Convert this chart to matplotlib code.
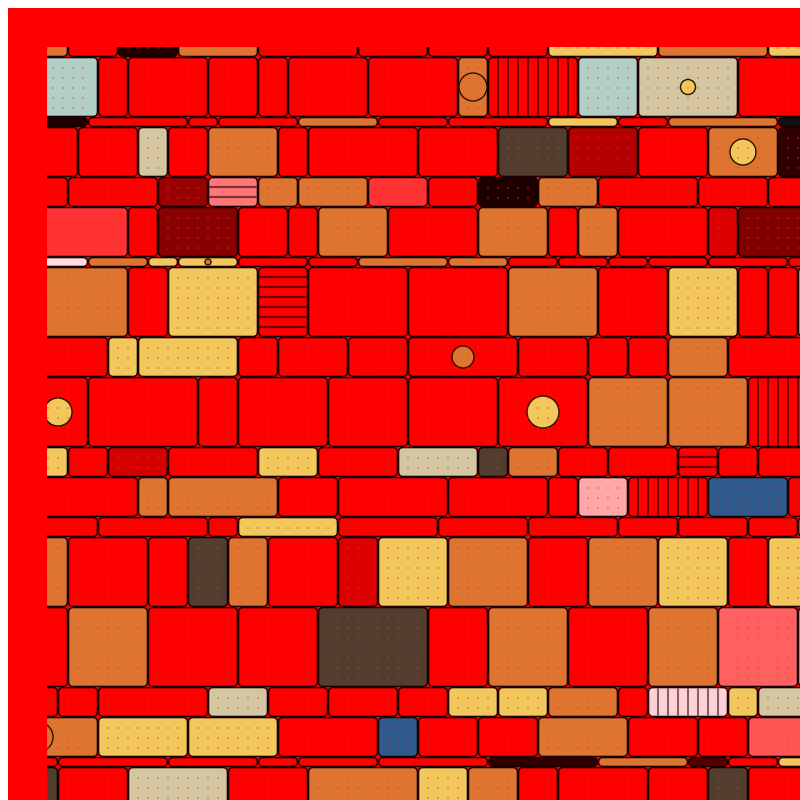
import matplotlib
matplotlib.use('Agg')
import matplotlib.pyplot as plt
from matplotlib.patches import FancyBboxPatch, Circle, Rectangle
import numpy as np

# ---------------- data ----------------
COLORS = {
    'R': '#FF0000', 'O': '#DD7531', 'Y': '#F2C75C', 'B': '#D3C6A1', 'T': '#B1CFC6',
    'K': '#523E2E', 'U': '#2E5B8C', 'L': '#FF3333', 'S': '#FF6161', 's': '#FF5555',
    'P': '#FF7777', 'p': '#FFA8A8', 'w': '#FFD0D4', 'W': '#FFDDE2',
    'd1': '#1F0000', 'd2': '#111111', 'd3': '#300000', 'd4': '#880000',
    'd5': '#DD0000', 'd6': '#800000', 'd7': '#B40000', 'd8': '#990000',
    'd9': '#D50000', 'd10': '#550000',
}

row_names = list('ABCDEFGHIJKLMNOPQRS')
row_heights = [5, 6, 1, 5, 3, 5, 1, 7, 4, 7, 3, 4, 2, 7, 8, 3, 4, 1, 5]
row_starts = [2, 3.5, 2, 2, 2, 2, 2, 2, 2, 2, 2, 2, 2, 2, 2, 2, -3, 2, 2]

widths_A = [4, 5, 6, 8, 10, 7, 6, 6, 11, 11, 10]
codes_A = ['O', 'R', 'd1', 'O', 'R', 'R', 'R', 'R', 'Y', 'O', 'Y']
widths_B = [5.5, 3, 8, 5, 3, 8, 9, 3, 9, 6, 10, 12]
codes_B = ['T', 'R', 'R', 'R', 'R', 'R', 'R', 'O', 'R|', 'T', 'B', 'R']
widths_C = [6, 10, 3, 8, 8, 7, 10, 7, 5, 11, 8]
codes_C = ['d1', 'R', 'R', 'R', 'O', 'R', 'R', 'Y', 'R', 'O', 'd2']
widths_D = [5, 6, 3, 4, 7, 3, 11, 8, 7, 7, 7, 7, 8]
codes_D = ['R', 'R', 'B', 'R', 'O', 'R', 'R', 'R', 'K', 'd7', 'R', 'O', 'd3']
widths_E = [4, 9, 5, 5, 4, 7, 6, 5, 6, 6, 10, 7, 9]
codes_E = ['R', 'R', 'd8', 'P-', 'O', 'O', 'L', 'R', 'd1', 'O', 'R', 'R', 'R']
widths_F = [10, 3, 8, 5, 3, 7, 9, 7, 3, 4, 9, 3, 12]
codes_F = ['L', 'R', 'd4', 'R', 'R', 'O', 'R', 'O', 'R', 'O', 'R', 'd5', 'd6']
widths_G = [6, 6, 3, 6, 7, 5, 9, 6, 5, 5, 4, 6, 8, 7]
codes_G = ['W', 'O', 'Y', 'Y', 'R', 'R', 'O', 'O', 'R', 'R', 'R', 'R', 'R', 'R']
widths_H = [10, 4, 9, 5, 10, 10, 9, 7, 7, 3, 3, 8]
codes_H = ['O', 'R', 'Y', 'R-', 'R', 'R', 'O', 'R', 'Y', 'R', 'R', 'B']
widths_I = [8, 3, 10, 4, 7, 6, 11, 7, 4, 4, 6, 13]
codes_I = ['R', 'Y', 'Y', 'R', 'R', 'R', 'R', 'R', 'R', 'R', 'O', 'R']
widths_J = [6, 11, 4, 9, 8, 9, 9, 8, 8, 11]
codes_J = ['R', 'R', 'R', 'R', 'R', 'R', 'R', 'O', 'O', 'R|']
widths_K = [4, 4, 6, 9, 6, 8, 8, 3, 5, 5, 7, 4, 4, 10]
codes_K = ['Y', 'R', 'd9', 'R', 'Y', 'R', 'B', 'K', 'O', 'R', 'R', 'R-', 'R', 'R']
widths_L = [11, 3, 11, 6, 11, 10, 3, 5, 8, 8, 8]
codes_L = ['R', 'O', 'O', 'R', 'R', 'R', 'R', 'p', 'R|', 'U', 'R']
widths_M = [7, 11, 3, 10, 10, 9, 9, 6, 7, 5, 7]
codes_M = ['R', 'R', 'R', 'Y', 'R', 'R', 'R', 'R', 'R', 'R', 'O']
widths_N = [4, 8, 4, 4, 4, 7, 4, 7, 8, 6, 7, 7, 4, 10]
codes_N = ['O', 'R', 'R', 'K', 'O', 'R', 'd5', 'Y', 'O', 'R', 'O', 'Y', 'R', 'Y']
widths_O = [4, 8, 9, 8, 11, 6, 8, 8, 7, 8, 8]
codes_O = ['R', 'O', 'R', 'R', 'K', 'R', 'O', 'R', 'O', 'S', 'Y']
widths_P = [3, 4, 11, 6, 6, 7, 5, 5, 5, 7, 3, 8, 3, 11]
codes_P = ['R', 'R', 'R', 'B', 'R', 'R', 'R', 'Y', 'Y', 'O', 'R', 'w|', 'Y', 'B']
widths_Q = [12, 9, 9, 10, 4, 6, 6, 9, 7, 5, 12]
codes_Q = ['O', 'Y', 'Y', 'R', 'U', 'R', 'R', 'O', 'R', 'R', 's']
widths_R = [3, 11, 9, 4, 8, 11, 11, 9, 4, 5, 9]
codes_R = ['R', 'R', 'R', 'R', 'R', 'R', 'd3', 'O', 'd10', 'R', 'Y']
widths_S = [3, 7, 10, 8, 11, 5, 5, 4, 9, 6, 4, 12]
codes_S = ['K', 'R', 'B', 'R', 'O', 'Y', 'O', 'R', 'R', 'R', 'K', 'R']

row_widths = [widths_A, widths_B, widths_C, widths_D, widths_E, widths_F, widths_G,
              widths_H, widths_I, widths_J, widths_K, widths_L, widths_M, widths_N,
              widths_O, widths_P, widths_Q, widths_R, widths_S]
row_codes = [codes_A, codes_B, codes_C, codes_D, codes_E, codes_F, codes_G,
             codes_H, codes_I, codes_J, codes_K, codes_L, codes_M, codes_N,
             codes_O, codes_P, codes_Q, codes_R, codes_S]

# circles: (row, cell index, colour code, radius)
circles = [('B', 7, 'O', 1.4), ('B', 10, 'Y', 0.75), ('D', 11, 'Y', 1.3),
           ('G', 3, 'O', 0.3), ('I', 6, 'O', 1.1), ('J', 0, 'Y', 1.4),
           ('J', 6, 'Y', 1.6), ('Q', 0, 'O', 1.5)]

# ---------------- drawing ----------------
fig = plt.figure(figsize=(8, 8), dpi=100)
fig.patch.set_facecolor('white')
fig.add_artist(Rectangle((8 / 800, 0), 792 / 800, 792 / 800, transform=fig.transFigure,
                         facecolor='#FF0000', edgecolor='none', zorder=-10))
ax = fig.add_axes([47 / 800, 0, 753 / 800, 753 / 800])
ax.set_xlim(3.9, 79.2)
ax.set_ylim(79.3, 4.0)
ax.set_axis_off()

gap = 0.06
edge = '#1a0000'
dot_x, dot_y = [], []
cell_geom = {}

top = 0.0
for name, h, start, widths, codes in zip(row_names, row_heights, row_starts, row_widths, row_codes):
    x = start
    for i, (w, code) in enumerate(zip(widths, codes)):
        stripe = None
        base = code
        if code.endswith('|') or code.endswith('-'):
            stripe = code[-1]
            base = code[:-1]
        col = COLORS[base]
        hh = h - 2 * gap
        rs = min(0.45, hh / 2)
        p = FancyBboxPatch((x + gap, top + gap), w - 2 * gap, hh,
                           boxstyle=f"round,pad=0,rounding_size={rs}",
                           facecolor=col, edgecolor=edge, linewidth=1.0, zorder=2)
        ax.add_patch(p)
        cell_geom[(name, i)] = (x, top, w, h)
        if stripe == '|':
            lc = '#7a6060' if base == 'w' else '#700000'
            for k in range(1, int(round(w))):
                ax.plot([x + k - 0.03, x + k - 0.03], [top + gap, top + h - gap],
                        color=lc, lw=1.4, zorder=3, solid_capstyle='butt')
        elif stripe == '-':
            lc = '#8a3030' if base == 'P' else '#700000'
            for k in range(1, int(round(h))):
                ax.plot([x + gap, x + w - gap], [top + k - 0.03, top + k - 0.03],
                        color=lc, lw=1.6, zorder=3, solid_capstyle='butt')
        else:
            xs = np.arange(x + 1.03, x + w - 0.85, 1.0)
            ys = np.arange(top + 1.13, top + h - 0.75, 1.0)
            for yy in ys:
                for xx in xs:
                    dot_x.append(xx)
                    dot_y.append(yy)
        x += w
    top += h

for name, idx, code, r in circles:
    cx, cy, cw, ch = cell_geom[(name, idx)]
    ax.add_patch(Circle((cx + cw / 2, cy + ch / 2), r, facecolor=COLORS[code],
                        edgecolor='#2a1000', linewidth=1.0, zorder=4))

ax.scatter(dot_x, dot_y, s=2.6, marker='s', color='#FF2A2A', alpha=0.36,
           linewidths=0, zorder=5)

fig.savefig('out.png', dpi=100, facecolor=fig.get_facecolor())
